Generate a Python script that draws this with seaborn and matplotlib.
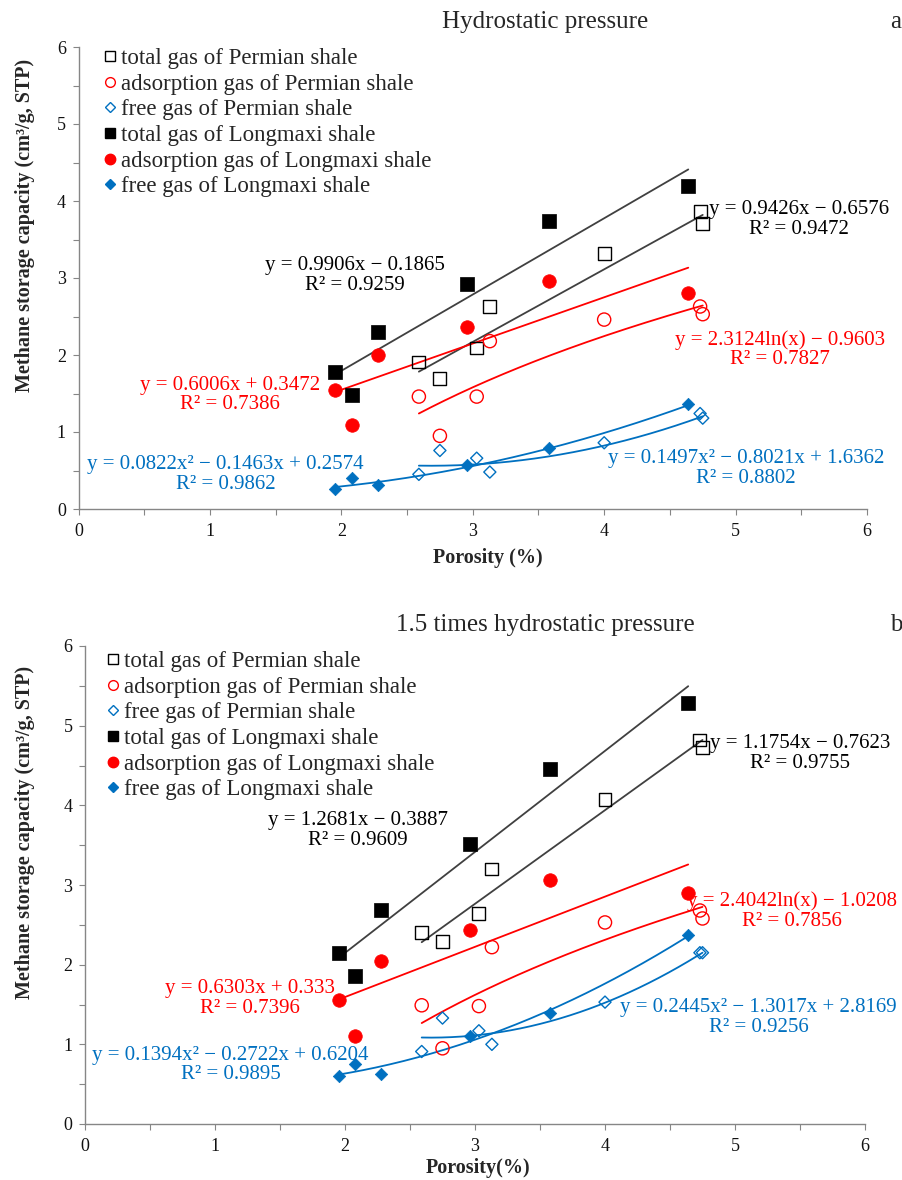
import numpy as np
import matplotlib
matplotlib.use("Agg")
import matplotlib.pyplot as plt
import seaborn as sns
from matplotlib.lines import Line2D
from matplotlib.ticker import MultipleLocator

# ---------------- data ----------------
longmaxi_porosity = [1.95, 2.08, 2.28, 2.96, 3.58, 4.64]
permian_porosity = [2.59, 2.75, 3.03, 3.13, 4.00, 4.73, 4.75]

# (a) hydrostatic pressure
a_permian_total = [1.91, 1.70, 2.09, 2.63, 3.32, 3.86, 3.71]
a_permian_adsorption = [1.46, 0.95, 1.46, 2.18, 2.46, 2.63, 2.53]
a_permian_free = [0.45, 0.76, 0.66, 0.48, 0.86, 1.24, 1.18]
a_longmaxi_total = [1.78, 1.48, 2.30, 2.92, 3.74, 4.19]
a_longmaxi_adsorption = [1.55, 1.09, 2.00, 2.36, 2.96, 2.81]
a_longmaxi_free = [0.26, 0.40, 0.31, 0.57, 0.79, 1.36]

# (b) 1.5 times hydrostatic pressure
b_permian_total = [2.40, 2.29, 2.64, 3.20, 4.07, 4.82, 4.73]
b_permian_adsorption = [1.49, 0.95, 1.48, 2.22, 2.53, 2.68, 2.58]
b_permian_free = [0.91, 1.33, 1.17, 1.00, 1.53, 2.15, 2.15]
b_longmaxi_total = [2.15, 1.86, 2.69, 3.52, 4.45, 5.28]
b_longmaxi_adsorption = [1.56, 1.10, 2.05, 2.43, 3.06, 2.90]
b_longmaxi_free = [0.60, 0.75, 0.63, 1.10, 1.39, 2.37]

# trendline coefficients (as printed on the chart)
a_coef_longmaxi_total = [0.9906, -0.1865]          # linear
a_coef_permian_total = [0.9426, -0.6576]           # linear
a_coef_longmaxi_adsorption = [0.6006, 0.3472]      # linear
a_coef_permian_adsorption = [2.3124, -0.9603]      # a*ln(x)+b
a_coef_longmaxi_free = [0.0822, -0.1463, 0.2574]   # quadratic
a_coef_permian_free = [0.1497, -0.8021, 1.6362]    # quadratic

b_coef_longmaxi_total = [1.2681, -0.3887]
b_coef_permian_total = [1.1754, -0.7623]
b_coef_longmaxi_adsorption = [0.6303, 0.333]
b_coef_permian_adsorption = [2.4042, -1.0208]
b_coef_longmaxi_free = [0.1394, -0.2722, 0.6204]
b_coef_permian_free = [0.2445, -1.3017, 2.8169]

a_eq_labels = ["y = 0.9906x \u2212 0.1865\nR\u00b2 = 0.9259",
               "y = 0.9426x \u2212 0.6576\nR\u00b2 = 0.9472",
               "y = 0.6006x + 0.3472\nR\u00b2 = 0.7386",
               "y = 2.3124ln(x) \u2212 0.9603\nR\u00b2 = 0.7827",
               "y = 0.0822x\u00b2 \u2212 0.1463x + 0.2574\nR\u00b2 = 0.9862",
               "y = 0.1497x\u00b2 \u2212 0.8021x + 1.6362\nR\u00b2 = 0.8802"]
b_eq_labels = ["y = 1.2681x \u2212 0.3887\nR\u00b2 = 0.9609",
               "y = 1.1754x \u2212 0.7623\nR\u00b2 = 0.9755",
               "y = 0.6303x + 0.333\nR\u00b2 = 0.7396",
               "y = 2.4042ln(x) \u2212 1.0208\nR\u00b2 = 0.7856",
               "y = 0.1394x\u00b2 \u2212 0.2722x + 0.6204\nR\u00b2 = 0.9895",
               "y = 0.2445x\u00b2 \u2212 1.3017x + 2.8169\nR\u00b2 = 0.9256"]

legend_labels = ["total gas of Permian shale", "adsorption gas of Permian shale",
                 "free gas of Permian shale", "total gas of Longmaxi shale",
                 "adsorption gas of Longmaxi shale", "free gas of Longmaxi shale"]
x_ticks = [0, 1, 2, 3, 4, 5, 6]
y_ticks = [0, 1, 2, 3, 4, 5, 6]

# ---------------- style ----------------
sns.set_theme(style="white")
plt.rcParams["font.family"] = ["Liberation Serif", "DejaVu Serif"]
plt.rcParams["axes.unicode_minus"] = True

BLACK = "#000000"
LINE_BLACK = "#404040"
RED = "#FF0000"
BLUE = "#0070C0"
GRAY = "#868686"

W, H = 902, 1180
fig = plt.figure(figsize=(W / 100, H / 100), dpi=100)


def px_axes(l, t, r, b):
    return fig.add_axes([l / W, 1 - b / H, (r - l) / W, (b - t) / H])


def trend(ax, kind, coef, xs, color):
    xg = np.linspace(min(xs), max(xs), 200)
    if kind == "lin":
        yg = coef[0] * xg + coef[1]
    elif kind == "log":
        yg = coef[0] * np.log(xg) + coef[1]
    else:
        yg = coef[0] * xg ** 2 + coef[1] * xg + coef[2]
    sns.lineplot(x=xg, y=yg, ax=ax, color=color, lw=1.3, sort=False,
                 estimator=None, legend=False, zorder=2)


def points(ax, xs, ys, marker, color, filled, size):
    sns.scatterplot(x=xs, y=ys, ax=ax, marker=marker, s=size,
                    facecolor=color if filled else "none",
                    edgecolor=color, linewidth=1.0 if not filled else 0.5,
                    legend=False, zorder=3)


def panel(ax, d, coefs, eqs, eq_pos, title, letter, title_y, xlabel,
          ylabel_xy, xlabel_xy, leg_anchor):
    (p_tot, p_ads, p_free, l_tot, l_ads, l_free) = d
    (c_lt, c_pt, c_la, c_pa, c_lf, c_pf) = coefs
    trend(ax, "lin", c_lt, longmaxi_porosity, LINE_BLACK)
    trend(ax, "lin", c_pt, permian_porosity, LINE_BLACK)
    trend(ax, "lin", c_la, longmaxi_porosity, RED)
    trend(ax, "log", c_pa, permian_porosity, RED)
    trend(ax, "quad", c_lf, longmaxi_porosity, BLUE)
    trend(ax, "quad", c_pf, permian_porosity, BLUE)

    points(ax, permian_porosity, p_tot, "s", BLACK, False, 85)
    points(ax, permian_porosity, p_ads, "o", RED, False, 90)
    points(ax, permian_porosity, p_free, "D", BLUE, False, 38)
    points(ax, longmaxi_porosity, l_tot, "s", BLACK, True, 95)
    points(ax, longmaxi_porosity, l_ads, "o", RED, True, 95)
    points(ax, longmaxi_porosity, l_free, "D", BLUE, True, 40)

    ax.set_xlim(0, 6)
    ax.set_ylim(0, 6)
    ax.set_xticks(x_ticks)
    ax.set_yticks(y_ticks)
    ax.xaxis.set_minor_locator(MultipleLocator(0.5))
    ax.yaxis.set_minor_locator(MultipleLocator(0.5))
    for s in ["top", "right"]:
        ax.spines[s].set_visible(False)
    for s in ["left", "bottom"]:
        ax.spines[s].set_color(GRAY)
        ax.spines[s].set_linewidth(1.0)
    ax.tick_params(which="both", direction="out", length=4, width=0.8,
                   color=GRAY, left=True, bottom=True)
    ax.tick_params(axis="x", labelsize=13, pad=6, labelcolor="#111111")
    ax.tick_params(axis="y", labelsize=13, pad=5, labelcolor="#111111")
    ax.set_xlabel("")
    ax.set_ylabel("")

    colors = [BLACK, BLACK, RED, RED, BLUE, BLUE]
    for txt, (x, y), c in zip(eqs, eq_pos, colors):
        ax.text(x, y, txt, color=c, fontsize=15, ha="center", va="center",
                linespacing=1.05, zorder=4)

    fig.text(545 / W, 1 - title_y / H, title, fontsize=18, ha="center",
             va="baseline")
    fig.text(896 / W, 1 - title_y / H, letter, fontsize=18, ha="center",
             va="baseline")
    fig.text(xlabel_xy[0] / W, 1 - xlabel_xy[1] / H, xlabel, fontsize=14.5,
             fontweight="bold", ha="center", va="center")
    fig.text(ylabel_xy[0] / W, 1 - ylabel_xy[1] / H,
             "Methane storage capacity (cm\u00b3/g, STP)", fontsize=14.5,
             fontweight="bold", ha="center", va="center", rotation=90)

    handles = [
        Line2D([], [], ls="", marker="s", ms=7, mfc="none", mec=BLACK, mew=1.0),
        Line2D([], [], ls="", marker="o", ms=7, mfc="none", mec=RED, mew=1.0),
        Line2D([], [], ls="", marker="D", ms=5, mfc="none", mec=BLUE, mew=1.0),
        Line2D([], [], ls="", marker="s", ms=7, mfc=BLACK, mec=BLACK),
        Line2D([], [], ls="", marker="o", ms=7.5, mfc=RED, mec=RED),
        Line2D([], [], ls="", marker="D", ms=5.5, mfc=BLUE, mec=BLUE),
    ]
    ax.legend(handles, legend_labels, loc="upper left",
              bbox_to_anchor=(leg_anchor[0] / W, 1 - leg_anchor[1] / H),
              bbox_transform=fig.transFigure, frameon=False, fontsize=16.5,
              borderpad=0, borderaxespad=0, handlelength=0.55,
              handletextpad=0.2, labelspacing=0.2)


ax1 = px_axes(78.5, 47, 867, 509)
ax2 = px_axes(85, 646, 865, 1124)

# annotation positions (data coords)
a_pos = [(2.10, 3.03), (5.48, 3.76), (1.15, 1.48), (5.34, 2.07), (1.12, 0.45), (5.08, 0.53)]
b_pos = [(2.10, 3.68), (5.50, 4.65), (1.27, 1.575), (5.44, 2.675), (1.12, 0.74), (5.18, 1.34)]

panel(ax1,
      (a_permian_total, a_permian_adsorption, a_permian_free,
       a_longmaxi_total, a_longmaxi_adsorption, a_longmaxi_free),
      (a_coef_longmaxi_total, a_coef_permian_total, a_coef_longmaxi_adsorption,
       a_coef_permian_adsorption, a_coef_longmaxi_free, a_coef_permian_free),
      a_eq_labels, a_pos, "Hydrostatic pressure", "a", 28, "Porosity (%)",
      (25, 225), (488, 558), (104, 48))

panel(ax2,
      (b_permian_total, b_permian_adsorption, b_permian_free,
       b_longmaxi_total, b_longmaxi_adsorption, b_longmaxi_free),
      (b_coef_longmaxi_total, b_coef_permian_total, b_coef_longmaxi_adsorption,
       b_coef_permian_adsorption, b_coef_longmaxi_free, b_coef_permian_free),
      b_eq_labels, b_pos, "1.5 times hydrostatic pressure", "b", 631, "Porosity(%)",
      (25, 832), (478, 1168), (107, 651))

fig.savefig("out.png", dpi=100)
